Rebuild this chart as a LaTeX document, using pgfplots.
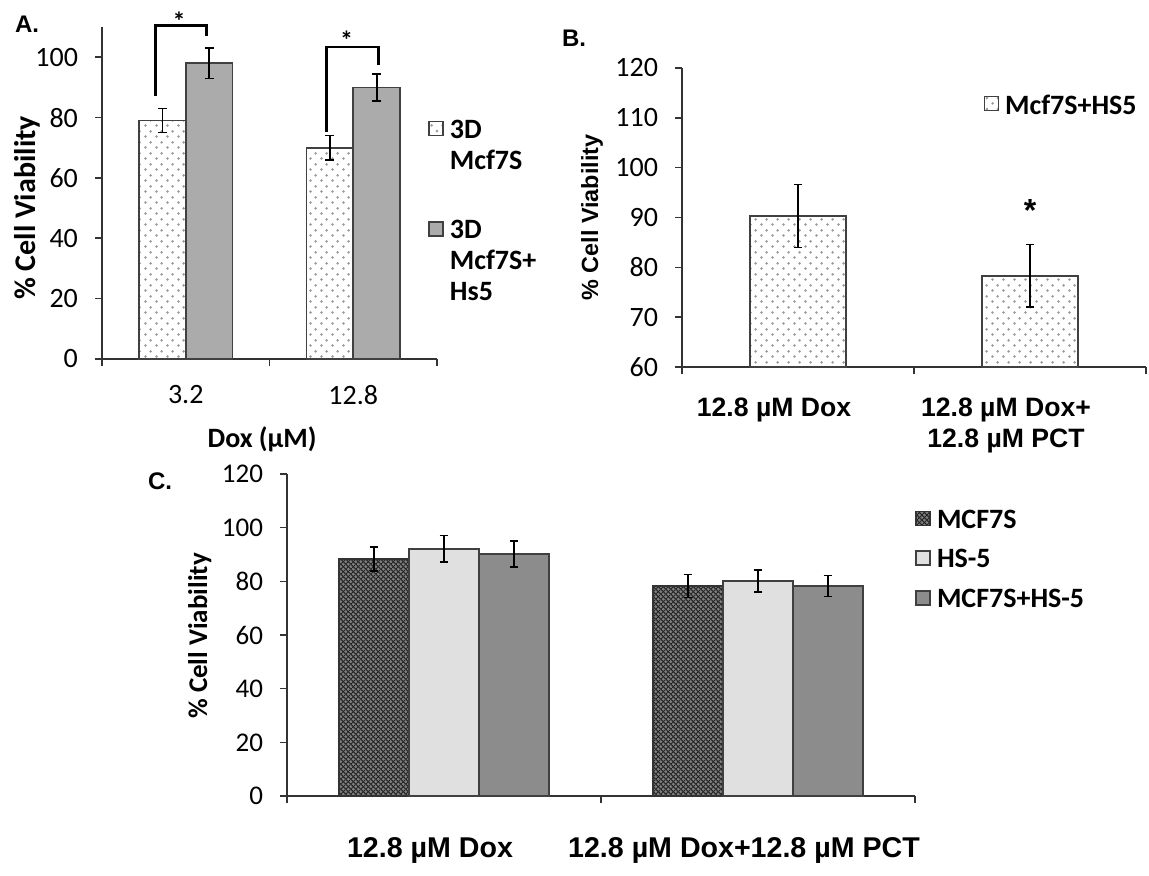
\documentclass[border=0pt]{standalone}
\usepackage{fontspec}
\setmainfont{Carlito}
\newfontfamily\arial{Liberation Sans}
\usepackage{pgfplots}
\pgfplotsset{compat=1.18}
\usetikzlibrary{patterns,patterns.meta}

\tikzdeclarepattern{
  name=sdots, type=uncolored,
  bounding box={(0pt,0pt) and (5.5pt,5.5pt)},
  tile size={(5.5pt,5.5pt)},
  code={\fill (1.375pt,1.375pt) circle [radius=0.75pt];
        \fill (4.125pt,4.125pt) circle [radius=0.75pt];}
}
\tikzdeclarepattern{
  name=dhatch, type=uncolored,
  bounding box={(0pt,0pt) and (2.4pt,2.4pt)},
  tile size={(2.4pt,2.4pt)},
  code={\draw[line width=0.5pt] (0pt,0pt) -- (2.4pt,2.4pt);
        \draw[line width=0.5pt] (0pt,2.4pt) -- (2.4pt,0pt);}
}

\pgfplotsset{
  panel/.style={
    scale only axis, clip=false,
    axis lines=left, axis line style={-, line width=1pt, black!80},
    tick align=outside, major tick length=3.5pt,
    tick style={line width=0.8pt, black!80},
    xmin=-0.5, xmax=1.5, xtick={-0.5,0.5,1.5}, x tick label as interval,
    /pgf/number format/assume math mode=true,
    yticklabel style={font=\fontsize{14}{16}\selectfont, xshift=-5pt},
    legend style={draw=none, fill=none, inner sep=0pt, anchor=north west, column sep=2pt,
      cells={anchor=north west}, nodes={align=left, inner sep=1pt}},
    legend image code/.code={\draw[##1,/tikz/.cd,line width=0.8pt] (0pt,-2pt) rectangle (7pt,-9pt);},
  },
  % bars sit at category + offset, so the error bars land on them
  ebar/.style={error bars/.cd, y dir=both, y explicit,
    error bar style={line width=0.8pt, black},
    error mark options={rotate=90, mark size=2.2pt, line width=0.8pt, black}},
  dotbar/.style={fill=white, draw=black!75, line width=0.8pt,
    postaction={pattern=sdots, pattern color=black!40}},
}

\begin{document}
\begin{tikzpicture}
\useasboundingbox (0,0) rectangle (574.5pt,437.5pt);

% ---- A ----
\begin{axis}[panel,
  at={(51pt,258pt)}, anchor=south west, width=167.5pt, height=166pt,
  ymin=0, ymax=110, ytick={0,20,...,100},
  xticklabels={3.2,12.8},
  xticklabel style={font=\fontsize{14}{16}\selectfont, yshift=-6pt},
  xlabel={Dox (µM)},
  every axis x label/.style={at={(axis description cs:0.478,-0.241)}, anchor=center,
    font=\bfseries\fontsize{14}{16}\selectfont},
  ylabel={\% Cell Viability},
  every axis y label/.style={at={(axis description cs:-0.224,0.455)}, rotate=90, anchor=center,
    font=\bfseries\fontsize{15}{17}\selectfont},
  legend style={at={(rel axis cs:0.973,0.729)}, row sep=22pt,
    font=\bfseries\fontsize{14}{15.5}\selectfont},
]
\addplot[ybar, bar width=0.28, bar shift=0, dotbar, ebar]
  coordinates {(-0.14,79) +- (0,4) (0.86,70) +- (0,4)};
\addlegendentry{3D\\Mcf7S}
\addplot[ybar, bar width=0.28, bar shift=0, fill=black!33, draw=black!75, line width=0.8pt, ebar]
  coordinates {(0.14,98) +- (0,5) (1.14,90) +- (0,4.5)};
\addlegendentry{3D\\Mcf7S+\\Hs5}
\draw[line width=1.4pt] (axis cs:-0.18,87) |- (axis cs:0.125,110.6) -- (axis cs:0.125,107);
\draw[line width=1.4pt] (axis cs:0.84,75.3) |- (axis cs:1.15,103.4) -- (axis cs:1.15,97.4);
\node[font=\bfseries\fontsize{13}{13}\selectfont] at (axis cs:-0.04,112) {*};
\node[font=\bfseries\fontsize{13}{13}\selectfont] at (axis cs:0.96,105.5) {*};
\end{axis}

% ---- B ----
\begin{axis}[panel,
  at={(341pt,254pt)}, anchor=south west, width=232pt, height=149.5pt,
  clip=true,
  ymin=60, ymax=120, ytick={60,70,...,120},
  xticklabels={12.8 µM Dox,{12.8 µM Dox+\\12.8 µM PCT}},
  xticklabel style={font=\arial\bfseries\fontsize{13.3}{15.5}\selectfont, align=center,
    anchor=north, yshift=-8.5pt, xshift=-12pt},
  ylabel={\% Cell Viability},
  every axis y label/.style={at={(axis description cs:-0.194,0.5)}, rotate=90, anchor=center,
    font=\arial\bfseries\fontsize{11.7}{14}\selectfont},
  legend style={at={(rel axis cs:0.649,0.92)},
    font=\bfseries\fontsize{14}{15.5}\selectfont},
]
\addplot[ybar, bar width=0.415, bar shift=0, dotbar, ebar]
  coordinates {(0,90.3) +- (0,6.3) (1,78.3) +- (0,6.3)};
\addlegendentry{Mcf7S+HS5}
\node[font=\arial\bfseries\fontsize{16}{16}\selectfont] at (axis cs:1,91.5) {*};
\end{axis}

% ---- C ----
\begin{axis}[panel,
  at={(143.5pt,39.5pt)}, anchor=south west, width=314pt, height=161pt,
  ymin=0, ymax=120, ytick={0,20,...,120},
  yticklabel style={font=\fontsize{13.5}{16}\selectfont},
  xticklabels={12.8 µM Dox,12.8 µM Dox+12.8 µM PCT},
  xticklabel style={font=\arial\bfseries\fontsize{14.3}{16}\selectfont,
    anchor=north, yshift=-13.7pt, xshift=-7pt},
  ylabel={\% Cell Viability},
  every axis y label/.style={at={(axis description cs:-0.139,0.497)}, rotate=90, anchor=center,
    font=\bfseries\fontsize{13.5}{16}\selectfont},
  legend style={at={(rel axis cs:1.0,0.8975)}, row sep=7pt,
    font=\bfseries\fontsize{14}{15.5}\selectfont},
]
\addplot[ybar, bar width=0.223, bar shift=0, fill=black!50, draw=black!80, line width=0.8pt,
  postaction={pattern=dhatch, pattern color=black!85}, ebar]
  coordinates {(-0.223,88.3) +- (0,4.5) (0.777,78.3) +- (0,4.3)};
\addlegendentry{MCF7S}
\addplot[ybar, bar width=0.223, bar shift=0, fill=black!12, draw=black!75, line width=0.8pt, ebar]
  coordinates {(0,92.1) +- (0,5) (1,80.1) +- (0,4.1)};
\addlegendentry{HS-5}
\addplot[ybar, bar width=0.223, bar shift=0, fill=black!45, draw=black!75, line width=0.8pt, ebar]
  coordinates {(0.223,90.2) +- (0,4.8) (1.223,78.3) +- (0,3.9)};
\addlegendentry{MCF7S+HS-5}
\end{axis}

\node[font=\arial\bfseries\fontsize{12}{12}\selectfont] at (13.5pt,425.5pt) {A.};
\node[font=\arial\bfseries\fontsize{12}{12}\selectfont] at (287pt,418.5pt) {B.};
\node[font=\arial\bfseries\fontsize{12}{12}\selectfont] at (80pt,197pt) {C.};
\end{tikzpicture}
\end{document}
